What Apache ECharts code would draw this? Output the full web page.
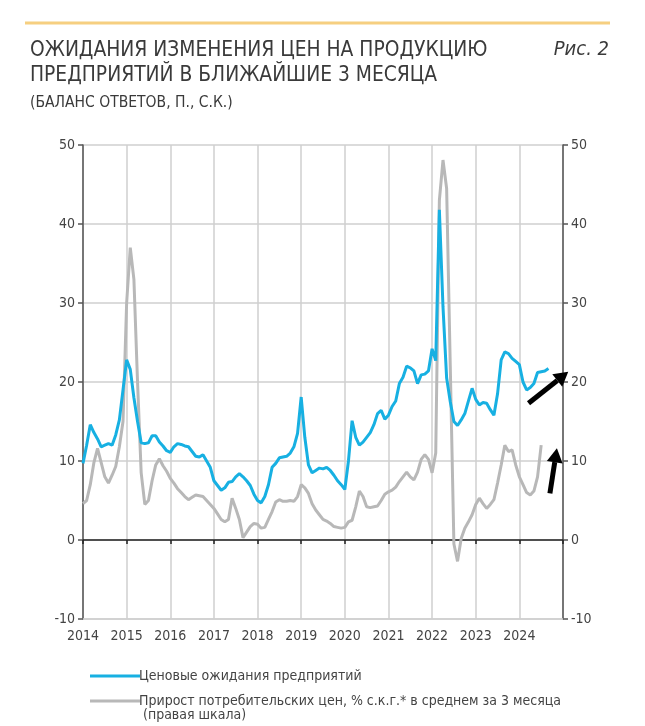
<!DOCTYPE html>
<html>
<head>
<meta charset="utf-8">
<script src="https://cdn.jsdelivr.net/npm/echarts@6/dist/echarts.min.js"></script>
<style>
html,body{margin:0;padding:0;background:#fff;}
#c{width:645px;height:726px;}
</style>
</head>
<body>
<div id="c"></div>
<script>
// ---- DATA ----
var startYear = 2014; // monthly data, Jan 2014 onwards
var xTicks = [2014, 2015, 2016, 2017, 2018, 2019, 2020, 2021, 2022, 2023, 2024];
var yTicks = [-10, 0, 10, 20, 30, 40, 50];
var seriesNames = ['Ценовые ожидания предприятий', 'Прирост потребительских цен, % с.к.г.* в среднем за 3 месяца'];
var priceExpectations = [
  9.7, 12.0, 14.6, 13.6, 12.8, 11.8, 12.0, 12.2, 12.0, 13.3, 15.2, 19.0,
  22.8, 21.6, 18.0, 15.0, 12.3, 12.2, 12.3, 13.2, 13.2, 12.4, 11.9, 11.3,
  11.1, 11.8, 12.2, 12.1, 11.9, 11.8, 11.2, 10.6, 10.5, 10.8, 10.0, 9.2,
  7.5, 6.9, 6.3, 6.6, 7.3, 7.4, 8.0, 8.4, 8.0, 7.5, 6.9, 5.8,
  5.0, 4.7, 5.5, 7.0, 9.2, 9.7, 10.4, 10.5, 10.6, 11.0, 11.8, 13.5,
  18.1, 13.0, 9.5, 8.5, 8.8, 9.1, 9.0, 9.2, 8.8, 8.2, 7.5, 7.0,
  6.4, 10.0, 15.1, 13.0, 12.0, 12.4, 13.0, 13.6, 14.6, 16.0, 16.4, 15.3,
  15.8, 16.9, 17.6, 19.8, 20.6, 22.0, 21.8, 21.4, 19.8, 20.9, 21.0, 21.4,
  24.2, 22.7, 41.8, 29.5, 20.5, 17.5, 15.0, 14.5, 15.2, 16.0, 17.6, 19.2,
  17.8, 17.1, 17.4, 17.3, 16.5, 15.8, 18.5, 22.8, 23.8, 23.6, 23.0, 22.6,
  22.2, 20.0, 19.0, 19.3, 19.8, 21.2, 21.3, 21.4, 21.7
];
var cpiGrowth = [
  4.6, 5.0, 7.0, 9.8, 11.6, 9.8, 8.0, 7.2, 8.2, 9.3, 11.8, 15.0,
  30.0, 37.0, 33.0, 20.0, 8.5, 4.5, 5.0, 7.5, 9.5, 10.3, 9.4, 8.7,
  7.8, 7.2, 6.5, 6.0, 5.5, 5.1, 5.4, 5.7, 5.6, 5.5, 5.0, 4.5,
  4.0, 3.3, 2.6, 2.3, 2.6, 5.3, 4.0, 2.6, 0.3, 1.0, 1.7, 2.1,
  2.0, 1.5, 1.6, 2.6, 3.6, 4.8, 5.1, 4.9, 4.9, 5.0, 4.9, 5.5,
  7.0, 6.6, 5.9, 4.6, 3.8, 3.2, 2.6, 2.4, 2.1, 1.7, 1.6, 1.5,
  1.6, 2.3, 2.5, 4.2, 6.2, 5.5, 4.2, 4.1, 4.2, 4.3, 5.0, 5.8,
  6.1, 6.3, 6.7, 7.4, 8.0, 8.6, 8.0, 7.6, 8.6, 10.2, 10.8, 10.2,
  8.5, 11.0, 43.0, 48.1, 44.5, 22.0, -0.5, -2.7, 0.2, 1.5, 2.3, 3.2,
  4.5, 5.3, 4.6, 4.0, 4.5, 5.1, 7.2, 9.5, 12.0, 11.2, 11.4, 9.5,
  8.0, 7.0, 6.0, 5.7, 6.2, 8.0, 12.0
];
// annotation arrows (data coordinates: [year, value])
var arrows = [
  {from: [2024.21, 17.3], to: [2025.12, 21.3]},
  {from: [2024.70, 5.9], to: [2024.86, 11.6]}
];

function toPairs(arr) {
  return arr.map(function (v, i) { return [startYear + i / 12, v]; });
}

var FONT = '"Liberation Sans Narrow","DejaVu Sans Condensed","Liberation Sans",sans-serif';
var chart = echarts.init(document.getElementById('c'), null, {renderer: 'canvas'});
var gridColor = '#cfcfcf';
var axisColor = '#555';

var option = {
  backgroundColor: '#fff',
  animation: false,
  title: [
    {text: 'ОЖИДАНИЯ ИЗМЕНЕНИЯ ЦЕН НА ПРОДУКЦИЮ\nПРЕДПРИЯТИЙ В БЛИЖАЙШИЕ 3 МЕСЯЦА', left: 25, top: 33,
     textStyle: {fontFamily: FONT, fontSize: 20.8, lineHeight: 25, fontWeight: 'normal', color: '#3a3a3a'}},
    {text: '(БАЛАНС ОТВЕТОВ, П., С.К.)', left: 25, top: 90,
     textStyle: {fontFamily: FONT, fontSize: 15.5, fontWeight: 'normal', color: '#3a3a3a'}},
    {text: 'Рис. 2', right: 31, top: 35,
     textStyle: {fontFamily: FONT, fontSize: 20, fontStyle: 'italic', fontWeight: 'normal', color: '#3a3a3a'}}
  ],
  grid: {left: 83, right: 82, top: 145, bottom: 107, containLabel: false},
  legend: {
    orient: 'vertical', left: 85, top: 664, itemGap: 11,
    itemWidth: 50, itemHeight: 3, icon: 'rect',
    textStyle: {fontFamily: FONT, fontSize: 14, color: '#444', padding: [0, 0, 0, -6]},
    data: seriesNames
  },
  xAxis: [
    {type: 'value', min: 2014, max: 2025, interval: 1, position: 'bottom',
     axisLine: {onZero: false, show: true, lineStyle: {color: gridColor, width: 1.5}},
     axisTick: {show: false},
     axisLabel: {margin: 10, fontFamily: FONT, fontSize: 14, color: '#444',
       formatter: function (v) { return xTicks.indexOf(v) >= 0 ? String(v) : ''; }},
     splitLine: {show: true, lineStyle: {color: gridColor, width: 1.5}}},
    {type: 'value', min: 2014, max: 2025, interval: 1, position: 'bottom',
     axisLine: {onZero: true, show: true, lineStyle: {color: '#222', width: 1.5}},
     axisTick: {show: true, inside: false, length: 4, lineStyle: {color: '#222', width: 1.5}},
     axisLabel: {show: false}, splitLine: {show: false}}
  ],
  yAxis: [
    {type: 'value', min: -10, max: 50, interval: 10, position: 'left',
     axisLine: {show: true, lineStyle: {color: axisColor, width: 1.5}},
     axisTick: {show: true, length: 5, lineStyle: {color: axisColor, width: 1.5}},
     axisLabel: {margin: 8, fontFamily: FONT, fontSize: 14, color: '#444'},
     splitLine: {show: true, lineStyle: {color: gridColor, width: 1.5}}},
    {type: 'value', min: -10, max: 50, interval: 10, position: 'right',
     axisLine: {show: true, lineStyle: {color: axisColor, width: 1.5}},
     axisTick: {show: true, length: 5, lineStyle: {color: axisColor, width: 1.5}},
     axisLabel: {margin: 8, fontFamily: FONT, fontSize: 14, color: '#444'},
     splitLine: {show: false}}
  ],
  series: [
    {name: seriesNames[1], type: 'line', yAxisIndex: 1, xAxisIndex: 0, data: toPairs(cpiGrowth),
     showSymbol: false, symbol: 'none', color: '#b8b8b8', lineStyle: {width: 3, color: '#b8b8b8'}, z: 3},
    {name: seriesNames[0], type: 'line', yAxisIndex: 0, xAxisIndex: 0, data: toPairs(priceExpectations),
     showSymbol: false, symbol: 'none', color: '#17b0e2', lineStyle: {width: 3, color: '#17b0e2'}, z: 4}
  ]
};
chart.setOption(option);

// decorations: top rule, legend continuation, annotation arrows
var g = [
  {type: 'line', shape: {x1: 25, y1: 23, x2: 610, y2: 23}, style: {stroke: '#f6cf80', lineWidth: 3}},
  {type: 'text', left: 143, top: 708, style: {text: '(правая шкала)', font: '14px ' + FONT, fill: '#444'}}
];
arrows.forEach(function (a) {
  var p1 = chart.convertToPixel({gridIndex: 0}, a.from);
  var p2 = chart.convertToPixel({gridIndex: 0}, a.to);
  var dx = p2[0] - p1[0], dy = p2[1] - p1[1];
  var len = Math.sqrt(dx * dx + dy * dy);
  var ux = dx / len, uy = dy / len;
  var headLen = 14, headW = 8;
  var bx = p2[0] - ux * headLen, by = p2[1] - uy * headLen;
  g.push({type: 'line', shape: {x1: p1[0], y1: p1[1], x2: bx, y2: by},
    style: {stroke: '#000', lineWidth: 5}, z: 100});
  g.push({type: 'polygon', shape: {points: [
    [p2[0], p2[1]], [bx - uy * headW, by + ux * headW], [bx + uy * headW, by - ux * headW]
  ]}, style: {fill: '#000'}, z: 100});
});
chart.setOption({graphic: g});
</script>
</body>
</html>
